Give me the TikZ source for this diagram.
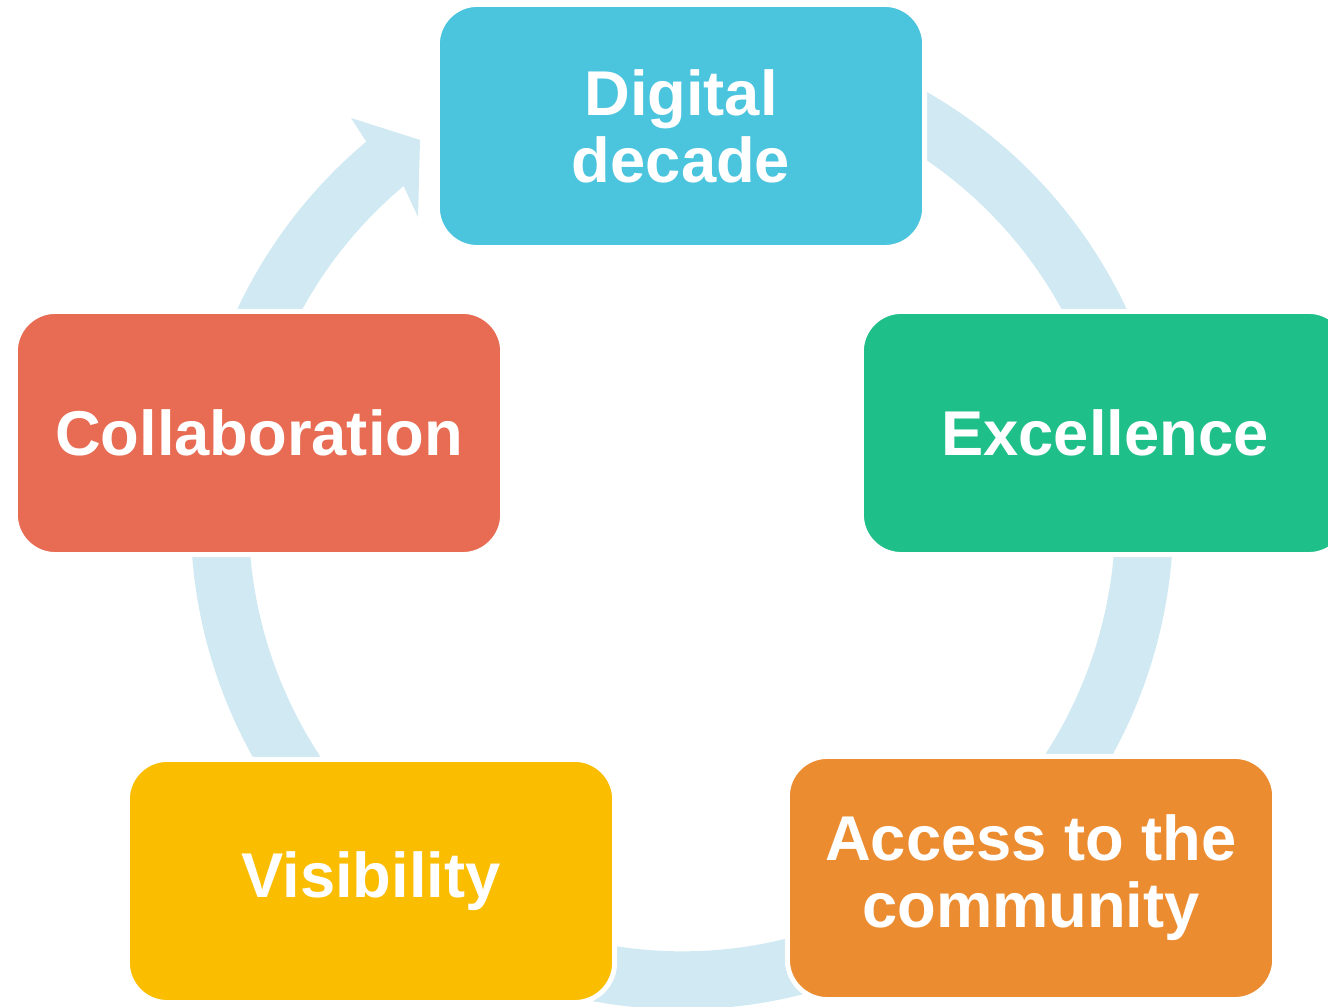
\documentclass[tikz,border=0pt]{standalone}
\usepackage{fontspec}
\setmainfont{Liberation Sans}
\definecolor{ringblue}{HTML}{D0E9F2}
\definecolor{digitalblue}{HTML}{4BC4DD}
\definecolor{excelgreen}{HTML}{1FBF89}
\definecolor{accessorange}{HTML}{EC8C31}
\definecolor{visyellow}{HTML}{FBBD00}
\definecolor{collabred}{HTML}{E86B53}

\begin{document}
\begin{tikzpicture}[x=0.01cm,y=0.01cm,
	box/.style={draw=white,line width=1.4pt,rounded corners=0.4cm,minimum width=4.87cm,minimum height=2.43cm,inner sep=0pt,align=center,text=white,font=\fontsize{18}{19}\selectfont\bfseries}]
			\useasboundingbox (0,0) rectangle (1328,1007);
			\clip (0,0) rectangle (1328,1007);
			\coordinate (hub) at (682,489);
			\draw [ringblue,line width=0.58cm](hub) ++(118:4.62cm) arc[start angle=118,end angle=-230.5,radius=4.62cm];
			\fill [ringblue](351,889)--(420,867)--(418,790)--(403.7,820.7)--(366.4,865.1)--cycle;
			\node [box,fill=digitalblue] (digital) at (681,881) {Digital\\decade};
			\node [box,fill=excelgreen] (excellence) at (1105,574) {Excellence};
			\node [box,fill=accessorange] (access) at (1031,129) {Access to the\\community};
			\node [box,fill=visyellow] (visibility) at (371,126) {Visibility};
			\node [box,fill=collabred] (collaboration) at (259,574) {Collaboration};
		\end{tikzpicture}
\end{document}
